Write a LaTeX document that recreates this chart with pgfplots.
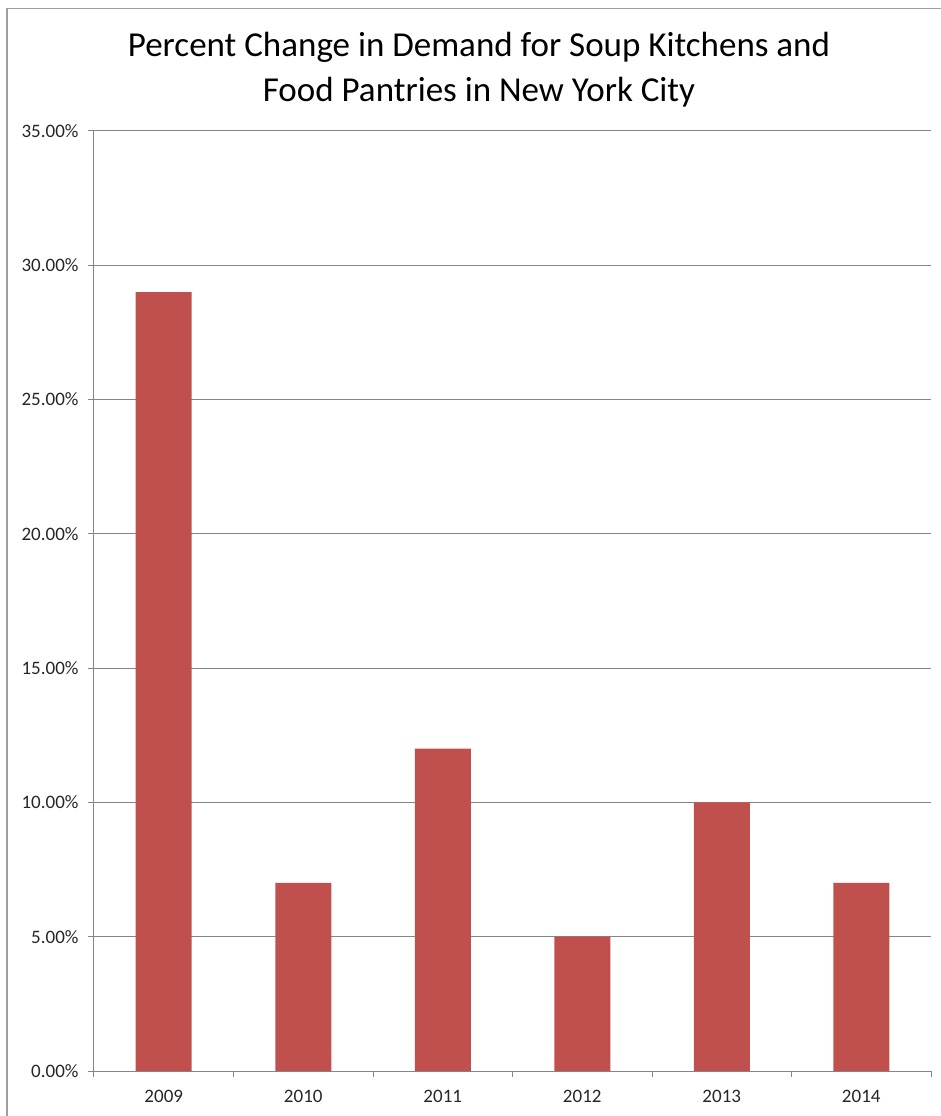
\documentclass[border=0pt]{standalone}
\usepackage{fontspec}
\setmainfont{Carlito}
\usepackage{pgfplots}
\pgfplotsset{compat=1.18}
\definecolor{barred}{HTML}{C0504D}
\definecolor{gridgray}{HTML}{868686}
\definecolor{labelgray}{HTML}{262626}
\begin{document}
\begin{tikzpicture}[x=1bp,y=1bp]
\useasboundingbox (-94bp,-45bp) rectangle (847bp,1071bp);
% chart frame
\draw[gridgray!80, line width=1.2bp] (-87bp,-60bp) -- (-87bp,1062.5bp) -- (870bp,1062.5bp);
% title
\node[anchor=base, font=\fontsize{35bp}{45bp}\selectfont] at (385bp,1014bp) {Percent Change in Demand for Soup Kitchens and};
\node[anchor=base, font=\fontsize{35bp}{45bp}\selectfont] at (385bp,969bp) {Food Pantries in New York City};
\begin{axis}[
  at={(0,0)}, anchor=south west,
  scale only axis,
  width=837bp, height=940bp,
  xmin=-0.5, xmax=5.5,
  ymin=0, ymax=35,
  axis x line=bottom, axis y line=left,
  axis line style={gridgray, line width=1bp, -},
  xtick={0,1,2,3,4,5},
  xticklabels={2009,2010,2011,2012,2013,2014},
  minor xtick={-0.5,0.5,1.5,2.5,3.5,4.5,5.5},
  major x tick style={draw=none},
  minor x tick style={gridgray, line width=1bp},
  minor tick length=6bp,
  ytick={0,5,10,15,20,25,30,35},
  yticklabels={0.00\%,5.00\%,10.00\%,15.00\%,20.00\%,25.00\%,30.00\%,35.00\%},
  y tick style={gridgray, line width=1bp},
  major tick length=6bp,
  tick align=outside,
  ymajorgrids,
  grid style={gridgray, line width=1bp},
  ticklabel style={font=\fontsize{19bp}{22bp}\selectfont, text=labelgray},
  /pgf/number format/assume math mode=true,
  xticklabel style={yshift=-10bp},
  yticklabel style={xshift=-6bp},
  ybar, bar width=56bp,
  clip=false,
]
\addplot[fill=barred, draw=none] coordinates {(0,29) (1,7) (2,12) (3,5) (4,10) (5,7)};
\end{axis}
\end{tikzpicture}
\end{document}
